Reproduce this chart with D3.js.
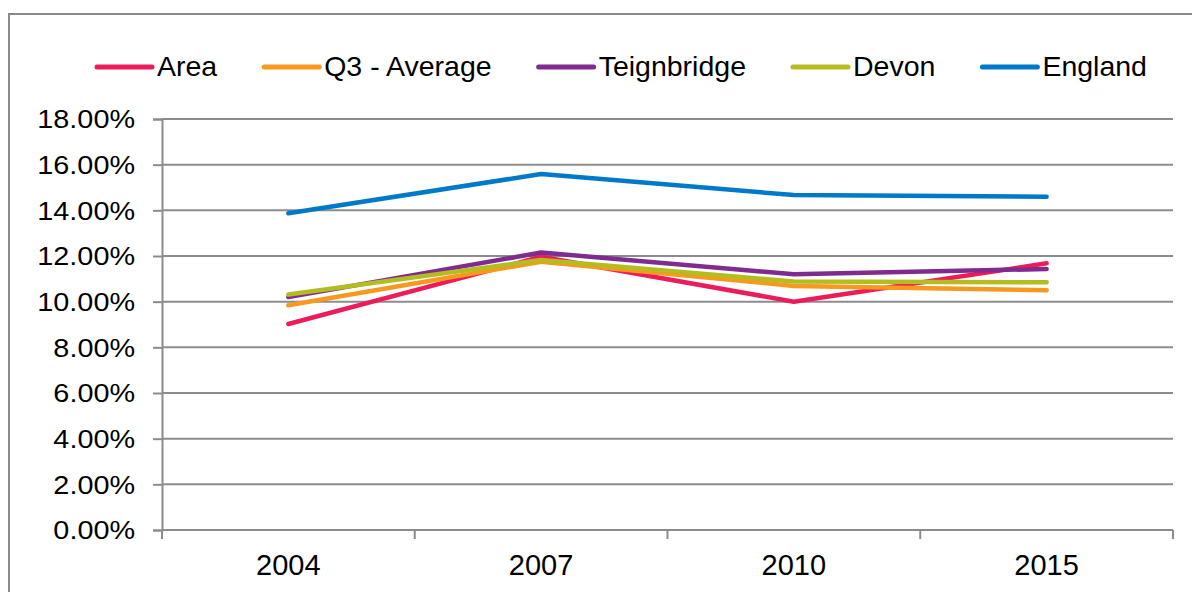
<!DOCTYPE html>
<html>
<head>
<meta charset="utf-8">
<script src="https://cdn.jsdelivr.net/npm/d3@7"></script>
<style>
  body { margin: 0; background: #fff; }
  svg text { font-family: "Liberation Sans", Arial, sans-serif; fill: #000; }
</style>
</head>
<body>
<div id="chart"></div>
<script>
// dados
const years = ['2004', '2007', '2010', '2015'];
const seriesNames = ['Area', 'Q3 - Average', 'Teignbridge', 'Devon', 'England'];
const area = [0.0902, 0.1197, 0.1000, 0.1168];
const q3Average = [0.0984, 0.1175, 0.1069, 0.1050];
const teignbridge = [0.1020, 0.1215, 0.1120, 0.1143];
const devon = [0.1031, 0.1183, 0.1088, 0.1085];
const england = [0.1387, 0.1559, 0.1467, 0.1460];
const yTicks = [0, 0.02, 0.04, 0.06, 0.08, 0.10, 0.12, 0.14, 0.16, 0.18];
const colors = ['#EC1C5A', '#F7981F', '#7F2B8F', '#B3BD1F', '#0079C9'];

const seriesValues = [area, q3Average, teignbridge, devon, england];
const series = seriesNames.map((name, i) => ({ name: name, values: seriesValues[i], color: colors[i] }));

const width = 1192, height = 592;
const plotLeft = 162, plotRight = 1173, plotTop = 119, plotBottom = 530;

const svg = d3.select('#chart')
    .append('svg')
    .attr('width', width)
    .attr('height', height);

// moldura externa
svg.append('path')
    .attr('d', `M9,${height} L9,14 L${width},14`)
    .attr('fill', 'none')
    .attr('stroke', '#8a8a8a')
    .attr('stroke-width', 2);

const x = d3.scaleBand().domain(years).range([plotLeft, plotRight]).padding(0);
const y = d3.scaleLinear().domain([0, 0.18]).range([plotBottom, plotTop]);

// linhas de grade
svg.append('g')
    .selectAll('line')
    .data(yTicks)
    .join('line')
    .attr('x1', plotLeft)
    .attr('x2', plotRight)
    .attr('y1', d => y(d))
    .attr('y2', d => y(d))
    .attr('stroke', '#8c8c8c')
    .attr('stroke-width', 2);

// eixo y
const yAxis = svg.append('g')
    .attr('transform', `translate(${plotLeft},0)`)
    .call(d3.axisLeft(y).tickValues(yTicks).tickFormat(d3.format('.2%')).tickSize(9).tickPadding(0));
yAxis.select('.domain').attr('stroke', '#8c8c8c').attr('stroke-width', 2);
yAxis.selectAll('.tick line').attr('stroke', '#8c8c8c').attr('stroke-width', 2);
yAxis.selectAll('.tick text')
    .attr('font-size', 25.5)
    .attr('fill', '#000')
    .attr('x', -27 / 1.13)
    .attr('dy', '0.35em')
    .attr('transform', 'scale(1.13,1)');

// eixo x (marcas nas fronteiras das categorias)
const boundaries = years.map(d => x(d)).concat([x(years[years.length - 1]) + x.bandwidth()]);
svg.append('line')
    .attr('x1', plotLeft).attr('x2', plotRight)
    .attr('y1', plotBottom).attr('y2', plotBottom)
    .attr('stroke', '#8c8c8c').attr('stroke-width', 2);
svg.append('g')
    .selectAll('line')
    .data(boundaries)
    .join('line')
    .attr('x1', d => d).attr('x2', d => d)
    .attr('y1', plotBottom).attr('y2', plotBottom + 9)
    .attr('stroke', '#8c8c8c').attr('stroke-width', 2);
svg.append('g')
    .selectAll('text')
    .data(years)
    .join('text')
    .attr('x', d => x(d) + x.bandwidth() / 2)
    .attr('y', 575)
    .attr('text-anchor', 'middle')
    .attr('font-size', 29)
    .text(d => d);

// linhas das séries
const line = d3.line()
    .x((d, i) => x(years[i]) + x.bandwidth() / 2)
    .y(d => y(d));

svg.append('g')
    .selectAll('path')
    .data(series)
    .join('path')
    .attr('d', d => line(d.values))
    .attr('fill', 'none')
    .attr('stroke', d => d.color)
    .attr('stroke-width', 4.5)
    .attr('stroke-linecap', 'round')
    .attr('stroke-linejoin', 'round');

// legenda
const legend = svg.append('g');
let lx = 97;
series.forEach(s => {
    legend.append('line')
        .attr('x1', lx).attr('x2', lx + 55)
        .attr('y1', 67).attr('y2', 67)
        .attr('stroke', s.color)
        .attr('stroke-width', 5)
        .attr('stroke-linecap', 'round');
    const t = legend.append('text')
        .attr('x', lx + 60)
        .attr('y', 76)
        .attr('font-size', 28.5)
        .text(s.name);
    lx = lx + 60 + t.node().getComputedTextLength() + 47;
});
</script>
</body>
</html>
